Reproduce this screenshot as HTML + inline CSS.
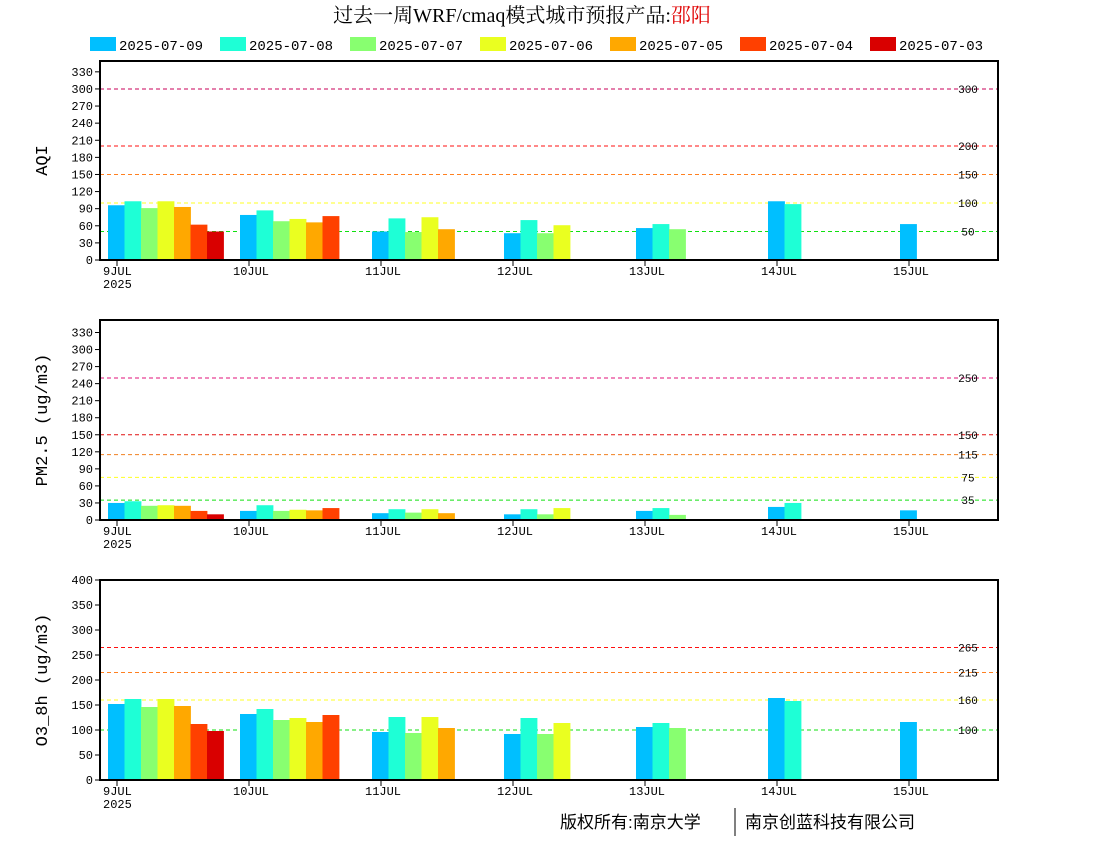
<!DOCTYPE html>
<html><head><meta charset="utf-8"><style>
body{margin:0;background:#fff;width:1100px;height:850px;overflow:hidden}
svg{display:block}
text{font-family:"Liberation Mono","DejaVu Sans Mono",monospace}
</style></head><body>
<svg id="chart" width="1100" height="850" xmlns="http://www.w3.org/2000/svg">
<text x="522" y="22" text-anchor="middle" font-size="20" style='font-family:"Liberation Serif","Noto Serif CJK SC",serif'>过去一周WRF/cmaq模式城市预报产品:<tspan fill="#e00000">邵阳</tspan></text>
<text x="560" y="828" font-size="17" style='font-family:"Liberation Sans","Noto Sans CJK SC",sans-serif'>版权所有:南京大学</text>
<line x1="735" y1="808" x2="735" y2="836" stroke="#000"/>
<text x="745" y="828" font-size="17" style='font-family:"Liberation Sans","Noto Sans CJK SC",sans-serif'>南京创蓝科技有限公司</text>
</svg>
<script>
const seriesNames=["2025-07-09","2025-07-08","2025-07-07","2025-07-06","2025-07-05","2025-07-04","2025-07-03"];
const seriesColors=["#00bfff","#1effd6","#88ff70","#eaff20","#ffa800","#ff4000","#d90000"];
const dayLabels=["9JUL","10JUL","11JUL","12JUL","13JUL","14JUL","15JUL"];
// values[day][series]
const aqiValues=[[96,103,91,103,93,62,50],[79,87,68,72,66,77],[50,73,49,75,54],[47,70,47,61],[56,63,54],[103,98],[63]];
const pmValues=[[30,33,25,26,25,16,10],[16,26,16,18,17,21],[12,19,13,19,12],[10,19,10,21],[16,21,9],[23,30],[17]];
const o3Values=[[152,162,146,162,148,112,98],[132,142,120,124,116,130],[96,126,94,126,104],[92,124,92,114],[106,114,104],[164,158],[116]];
const aqiTicks=[0,30,60,90,120,150,180,210,240,270,300,330];
const pmTicks=[0,30,60,90,120,150,180,210,240,270,300,330];
const o3Ticks=[0,50,100,150,200,250,300,350,400];
const aqiRefs=[300,200,150,100,50];
const pmRefs=[250,150,115,75,35];
const o3Refs=[265,215,160,100];
const refColors5=["#c8005a","#ff1010","#ff8020","#ffff20","#10e010"];
const NS="http://www.w3.org/2000/svg";
const svg=document.getElementById('chart');
function mk(tag,attrs,parent){const e=document.createElementNS(NS,tag);for(const k in attrs)e.setAttribute(k,attrs[k]);(parent||svg).appendChild(e);return e;}
// legend
seriesNames.forEach((n,i)=>{
  const g=mk('g',{});
  
  
  const r=mk('rect',{x:90+130*i,y:37,width:26,height:14,fill:seriesColors[i]},g);
  
  
  const t=mk('text',{x:119+130*i,y:50,'font-size':14},g);
  
  
  t.textContent=n;
});
const X0=100,X1=998,dayStep=132,barW=16.5,firstBar=108;
function panel(name,title,top,bottom,ymax,ticks,vals,refs,refCols){
  const g=mk('g',{});
  
  
  const y=v=>bottom-(bottom-top)*v/ymax;
  ticks.forEach(t=>{
    const l=mk('line',{x1:X0-5,x2:X0,y1:y(t),y2:y(t),stroke:'#000'},g);
    
    
    const tx=mk('text',{x:X0-7,y:y(t)+4,'text-anchor':'end','font-size':12},g);
    
    
    tx.textContent=t;
  });
  refs.forEach((r,i)=>{
    const l=mk('line',{x1:X0,x2:X1,y1:y(r),y2:y(r),stroke:refCols[i],'stroke-dasharray':'4,3','stroke-width':1},g);
    
    
    const tx=mk('text',{x:968,y:y(r)+4,'text-anchor':'middle','font-size':11},g);
    
    
    tx.textContent=r;
  });
  vals.forEach((day,d)=>day.forEach((v,s)=>{
    const b=mk('rect',{x:firstBar+dayStep*d+barW*s,y:y(v),width:barW+0.4,height:bottom-y(v),fill:seriesColors[s]},g);
    
    
  }));
  dayLabels.forEach((lab,d)=>{
    const xx=117+dayStep*d;
    const l=mk('line',{x1:xx,x2:xx,y1:bottom,y2:bottom+6,stroke:'#000'},g);
    
    
    const tx=mk('text',{x:d==0?103:xx-16,y:bottom+15,'font-size':12},g);
    
    
    tx.textContent=lab;
  });
  const yr=mk('text',{x:103,y:bottom+28,'font-size':12},g);
  
  
  yr.textContent='2025';
  const box=mk('rect',{x:X0,y:top,width:X1-X0,height:bottom-top,fill:'none',stroke:'#000','stroke-width':2},g);
  
  
  const yt=mk('text',{x:0,y:0,'font-size':17,'text-anchor':'middle',transform:`translate(47,${(top+bottom)/2}) rotate(-90)`},g);
  
  
  yt.textContent=title;
}
panel('aqi','AQI',61,260,349,aqiTicks,aqiValues,aqiRefs,refColors5);
panel('pm25','PM2.5 (ug/m3)',320,520,352,pmTicks,pmValues,pmRefs,["#e0107a","#e01010","#f08020","#ffff20","#10e010"]);
panel('o3','O3_8h (ug/m3)',580,780,400,o3Ticks,o3Values,o3Refs,["#ff1010","#ff8020","#ffff20","#10e010"]);
</script>
</body></html>
